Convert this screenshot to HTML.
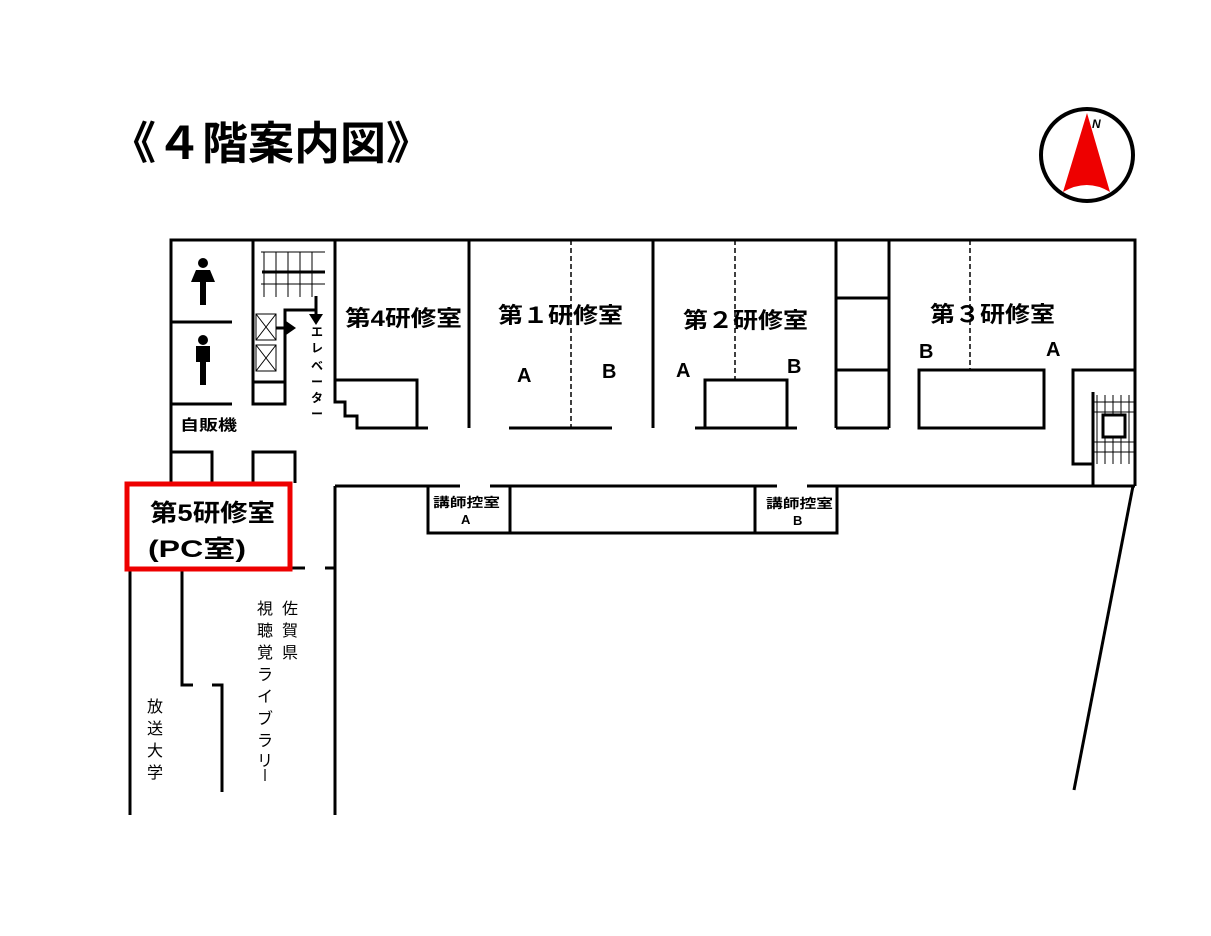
<!DOCTYPE html>
<html><head><meta charset="utf-8"><style>
html,body{margin:0;padding:0;background:#fff;}
svg{display:block;}
text{font-family:"Liberation Sans","Noto Sans CJK JP",sans-serif;font-weight:bold;fill:#000;}
.t{font-weight:normal;}
</style></head><body>
<svg width="1211" height="936" viewBox="0 0 1211 936" xmlns="http://www.w3.org/2000/svg">
<rect width="1211" height="936" fill="#fff"/>
<text x="110" y="159" font-size="45" textLength="322" lengthAdjust="spacingAndGlyphs">《４階案内図》</text>
<!-- compass -->
<circle cx="1087" cy="155" r="46" fill="none" stroke="#000" stroke-width="4"/>
<path d="M1087,113 L1110,192 Q1087,178 1063,192 Z" fill="#e00"/>
<text x="1092" y="128" font-size="12" font-style="italic">N</text>

<g stroke="#000" stroke-width="3" fill="none">
<path d="M171,483 V240 H1135 V486"/>
<path d="M335,486 H460 M490,486 H777 M807,486 H1135"/>
<path d="M1133,486 L1074,790"/>
<path d="M335,486 V815"/>
<path d="M130,570 V815"/>
<path d="M182,570 V685 H193 M212,685 H222 V792"/>
<path d="M291,568 H305 M325,568 H335"/>
<path d="M171,483 V452 H212 V483 M253,483 V452 H295 V483"/>
<path d="M171,322 H232 M171,404 H232"/>
<path d="M253,240 V404 H285 V310 H316 M253,382 H285"/>
<path d="M335,240 V402 H345 V416 H357 V428 H428 M336,380 H417 V428"/>
<path d="M469,240 V428 M653,240 V428 M836,240 V428 M889,240 V428 M836,298 H889 M836,370 H889 M836,428 H889"/>
<path d="M509,428 H612 M695,428 H797"/>
<rect x="705" y="380" width="82" height="48"/>
<rect x="919" y="370" width="125" height="58"/>
<path d="M1135,370 H1073 V464 H1093 M1093,392 V486"/>
<path d="M428,486 V533 H837 V486 M510,486 V533 M755,486 V533"/>
</g>
<g stroke="#000" stroke-width="1.5" fill="none" stroke-dasharray="5,3">
<path d="M571,240 V428 M735,240 V380 M970,240 V370"/>
</g>
<g stroke="#000" stroke-width="1" fill="none">
<path d="M261,252 H325 M261,284 H325 M264,252 V297 M276,252 V297 M288,252 V297 M300,252 V297 M312,252 V297"/>
<rect x="256" y="314" width="20" height="26"/><path d="M256,314 L276,340 M276,314 L256,340"/>
<rect x="256" y="345" width="20" height="26"/><path d="M256,345 L276,371 M276,345 L256,371"/>
<path d="M1097,395 V464 M1105,395 V464 M1113,395 V464 M1121,395 V464 M1129,395 V464 M1093,402 H1135 M1093,412 H1135 M1093,442 H1135 M1093,452 H1135"/>
</g>
<path d="M262,272 H325" stroke="#000" stroke-width="3"/>
<rect x="1103" y="415" width="22" height="22" fill="#fff" stroke="#000" stroke-width="3"/>
<path d="M316,296 V316" stroke="#000" stroke-width="3"/>
<path d="M309,314 L323,314 L316,325 Z" fill="#000"/>
<path d="M276,328 H288" stroke="#000" stroke-width="3"/>
<path d="M286,321 L296,328 L286,335 Z" fill="#000"/>
<g fill="#000">
<circle cx="203" cy="263" r="5"/><path d="M196,270 H210 L215,282 H191 Z"/><rect x="200" y="280" width="6" height="25"/>
<circle cx="203" cy="340" r="5"/><rect x="196" y="346" width="14" height="16"/><rect x="200" y="360" width="6" height="25"/>
</g>
<rect x="127" y="484" width="163" height="85" fill="#fff" stroke="#e00" stroke-width="5"/>
<text x="150" y="521" font-size="24" textLength="125" lengthAdjust="spacingAndGlyphs">第5研修室</text>
<text x="148" y="557" font-size="24" textLength="98" lengthAdjust="spacingAndGlyphs">(PC室)</text>
<text x="180" y="430" font-size="15" textLength="57" lengthAdjust="spacingAndGlyphs">自販機</text>
<text x="345" y="326" font-size="22" textLength="117" lengthAdjust="spacingAndGlyphs">第4研修室</text>
<text x="498" y="323" font-size="22" textLength="125" lengthAdjust="spacingAndGlyphs">第１研修室</text>
<text x="683" y="328" font-size="22" textLength="125" lengthAdjust="spacingAndGlyphs">第２研修室</text>
<text x="930" y="322" font-size="22" textLength="125" lengthAdjust="spacingAndGlyphs">第３研修室</text>
<text x="517" y="382" font-size="20">A</text>
<text x="602" y="378" font-size="20">B</text>
<text x="676" y="377" font-size="20">A</text>
<text x="787" y="373" font-size="20">B</text>
<text x="919" y="358" font-size="20">B</text>
<text x="1046" y="356" font-size="20">A</text>
<text x="433" y="507" font-size="13" textLength="67" lengthAdjust="spacingAndGlyphs">講師控室</text>
<text x="461" y="524" font-size="13">A</text>
<text x="766" y="508" font-size="13" textLength="67" lengthAdjust="spacingAndGlyphs">講師控室</text>
<text x="793" y="525" font-size="13">B</text>
<g font-size="12">
<text x="311" y="336">エ</text><text x="311" y="352">レ</text><text x="311" y="370">ベ</text><text x="311" y="386">ー</text><text x="311" y="402">タ</text><text x="311" y="418">ー</text>
</g>
<g font-size="16">
<text x="282" y="614" class="t">佐</text><text x="282" y="636" class="t">賀</text><text x="282" y="658" class="t">県</text>
<text x="257" y="614" class="t">視</text><text x="257" y="636" class="t">聴</text><text x="257" y="658" class="t">覚</text><text x="257" y="680" class="t">ラ</text><text x="257" y="702" class="t">イ</text><text x="257" y="724" class="t">ブ</text><text x="257" y="746" class="t">ラ</text><text x="257" y="766" class="t">リ</text>
<text x="147" y="712" class="t">放</text><text x="147" y="734" class="t">送</text><text x="147" y="756" class="t">大</text><text x="147" y="778" class="t">学</text>
</g>
<path d="M265,769 V781" stroke="#000" stroke-width="1.2"/>
</svg>
</body></html>
